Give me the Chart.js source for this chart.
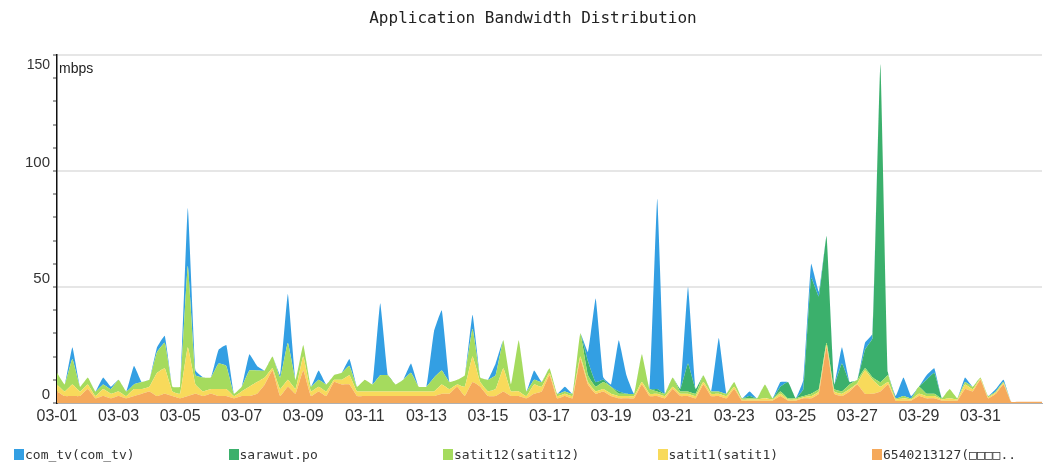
<!DOCTYPE html>
<html>
<head>
<meta charset="utf-8">
<title>Application Bandwidth Distribution</title>
<script src="https://cdn.jsdelivr.net/npm/chart.js@4"></script>
<style>
  html, body { margin: 0; padding: 0; background: #fff; }
  #wrap { position: relative; width: 1058px; height: 470px; overflow: hidden; }
  #chart { position: absolute; left: 0; top: 0; }
  #title { position: absolute; top: 8px; left: 0; width: 1066px; text-align: center;
           font: 16px "DejaVu Sans Mono", monospace; color: #222; }
  #legend { position: absolute; top: 449px; left: 0; width: 1058px; height: 16px;
            font: 13px "DejaVu Sans Mono", monospace; color: #333; }
  .item { position: absolute; top: 0; white-space: nowrap; line-height: 12px; }
  .swatch { display: inline-block; width: 10px; height: 11px; vertical-align: top; margin-right: 1px; }
</style>
</head>
<body>
<div id="wrap">
  <canvas id="chart" width="1058" height="470"></canvas>
  <div id="title">Application Bandwidth Distribution</div>
  <div id="legend"></div>
</div>
<script>
// Samples every 6 hours starting 03-01 00:00 (4 per day, one day per row)
const STEP_HOURS = 6;
const Y_UNIT = 'mbps';
const Y_MAX = 150;

// Series names / colours, listed bottom of the stack first
const SERIES_NAMES = ['6540213127(□□□□..', 'satit1(satit1)', 'satit12(satit12)', 'sarawut.po', 'com_tv(com_tv)'];
const SERIES_COLORS = ['#f5a95b', '#f8da5b', '#a5db5e', '#3bb06c', '#339fe3'];

const orange = [
    5, 3, 3, 3,
    6, 2, 3, 2,
    3, 2, 3, 4,
    5, 3, 4, 3,
    2, 3, 4, 3,
    4, 3, 3, 2,
    3, 3, 4, 8,
    14, 3, 7, 4,
    14, 3, 5, 3,
    9, 8, 8, 3,
    3, 3, 3, 3,
    3, 3, 3, 3,
    3, 3, 4, 4,
    7, 3, 9, 7,
    3, 3, 5, 3,
    3, 2, 4, 5,
    12, 2, 3, 2,
    19, 8, 4, 5,
    3, 2, 2, 2,
    8, 3, 3, 2,
    6, 3, 3, 2,
    8, 3, 3, 2,
    6, 1, 1, 1,
    1, 1, 3, 1,
    1, 2, 2, 4,
    24, 4, 3, 5,
    8, 4, 4, 5,
    8, 1, 1, 1,
    3, 2, 2, 1,
    1, 1, 6, 5,
    10, 2, 4, 8,
    0.5, 0.5, 0.5, 0.5,
    0.5
];

const yellow = [
    3, 2, 5, 2,
    2, 1, 3, 2,
    2, 1, 3, 2,
    2, 10, 11, 2,
    2, 21, 4, 2,
    2, 3, 3, 1,
    2, 4, 5, 3,
    1, 3, 3, 2,
    6, 2, 2, 2,
    1, 2, 4, 2,
    2, 2, 2, 2,
    2, 2, 2, 2,
    2, 2, 4, 2,
    1, 4, 11, 2,
    2, 3, 10, 2,
    2, 1, 4, 2,
    1, 1, 1, 1,
    1, 1, 1, 1,
    1, 1, 1, 1,
    1, 1, 1, 1,
    1, 1, 1, 1,
    1, 1, 1, 1,
    1, 0.5, 0.5, 0.5,
    1, 0.5, 1, 0.5,
    0.5, 0.5, 1, 1,
    1, 1, 1, 1,
    0.5, 10, 6, 2,
    1, 0.5, 1, 0.5,
    1, 1, 1, 0.5,
    1, 0.5, 2, 1,
    0.5, 0.5, 0.5, 0.5,
    0, 0, 0, 0,
    0
];

const lightGreen = [
    5, 3, 11, 2,
    3, 2, 2, 2,
    5, 2, 2, 3,
    3, 9, 11, 2,
    3, 35, 4, 6,
    5, 11, 10, 1,
    2, 7, 5, 3,
    5, 5, 16, 4,
    5, 2, 3, 3,
    2, 3, 4, 2,
    5, 3, 7, 7,
    3, 5, 8, 2,
    2, 6, 6, 3,
    2, 5, 12, 2,
    5, 6, 12, 3,
    22, 2, 2, 2,
    2, 1, 1, 1,
    10, 3, 2, 3,
    3, 1, 1, 1,
    12, 2, 1, 1,
    4, 1, 1, 1,
    3, 1, 1, 1,
    2, 0.5, 0.5, 0.5,
    6, 0.5, 1, 0.5,
    0.5, 0.5, 1, 1,
    1, 1, 1, 2,
    1.5, 1, 1, 2,
    3, 0.5, 1, 0.5,
    3, 1, 1, 0.5,
    4, 0.5, 1, 1,
    0.5, 0.5, 0.5, 0.5,
    0, 0, 0, 0,
    0
];

const darkGreen = [
    0, 0, 0, 0,
    0, 0, 0, 0,
    0, 0, 0, 0,
    0, 0, 0, 0,
    0, 0, 0, 0,
    0, 0, 0, 0,
    0, 0, 0, 0,
    0, 0, 0, 0,
    0, 0, 0, 0,
    0, 0, 0, 0,
    0, 0, 0, 0,
    0, 0, 0, 0,
    0, 0, 0, 0,
    0, 0, 0, 0,
    0, 0, 0, 0,
    0, 0, 0, 0,
    0, 0, 0, 0,
    0, 6, 2, 1,
    0, 1, 0, 0,
    0, 0, 1, 0,
    0, 1, 12, 2,
    0, 0, 0, 0,
    0, 0, 1, 0,
    0, 0, 2, 7,
    0, 3, 50, 40,
    46, 2, 12, 1,
    0, 8, 17, 137,
    1, 0, 0, 0,
    0, 6, 9, 0,
    0, 0, 0, 0,
    0, 0, 0, 0,
    0, 0, 0, 0,
    0
];

const blue = [
    0, 0, 5, 0,
    0, 0, 3, 1,
    0, 0, 8, 0,
    0, 2, 3, 0,
    0, 25, 2, 0,
    0, 6, 9, 0,
    0, 7, 2, 0,
    0, 1, 21, 0,
    0, 0, 4, 0,
    0, 0, 3, 0,
    0, 0, 31, 0,
    0, 0, 4, 0,
    0, 20, 26, 0,
    0, 0, 6, 0,
    0, 5, 0, 0,
    0, 0, 4, 0,
    0, 0, 2, 0,
    0, 4, 36, 1,
    1, 22, 8, 0,
    0, 0, 82, 0,
    0, 0, 33, 0,
    0, 0, 23, 0,
    0, 0, 2, 0,
    0, 0, 2, 0,
    0, 4, 6, 2,
    0, 0, 7, 0,
    0, 3, 2, 0,
    0, 1, 8, 1,
    0, 2, 2, 0,
    0, 0, 2, 0,
    0, 0, 1, 1,
    0, 0, 0, 0,
    0
];

const SERIES_VALUES = [orange, yellow, lightGreen, darkGreen, blue];

// Format hours since 03-01 00:00 as MM-DD
function formatDay(hours) {
    let day = hours / 24 + 1;
    let month = 3;
    if (day > 31) { day -= 31; month = 4; }
    return String(month).padStart(2, '0') + '-' + String(day).padStart(2, '0');
}

const tickFont = { family: '"Liberation Sans", Arial, sans-serif', size: 14 };

// "mbps" unit text, and the top tick label which sits just below its gridline
const unitLabel = {
    id: 'unitLabel',
    afterDraw(chart) {
        const { ctx, chartArea, scales } = chart;
        ctx.save();
        ctx.fillStyle = '#222';
        ctx.textBaseline = 'middle';
        ctx.font = '14px ' + tickFont.family;
        ctx.fillText(Y_UNIT, chartArea.left + 2, chartArea.top + 14);
        ctx.fillStyle = '#333';
        ctx.textAlign = 'right';
        ctx.fillText(String(Y_MAX), chartArea.left - 7, scales.y.getPixelForValue(Y_MAX) + 10);
        ctx.restore();
    }
};

const datasets = SERIES_NAMES.map((name, k) => ({
    label: name,
    data: SERIES_VALUES[k].map((v, i) => ({ x: i * STEP_HOURS, y: v })),
    backgroundColor: SERIES_COLORS[k],
    borderColor: SERIES_COLORS[k],
    borderWidth: 0,
    pointRadius: 0,
    fill: k === 0 ? 'origin' : '-1',
    tension: 0.1
}));

new Chart(document.getElementById('chart'), {
    type: 'line',
    data: { datasets },
    options: {
        responsive: false,
        devicePixelRatio: 1,
        animation: false,
        layout: { padding: { top: 55, right: 16, bottom: 37, left: 0 } },
        plugins: {
            legend: { display: false },
            title: { display: false },
            tooltip: { enabled: false }
        },
        scales: {
            x: {
                type: 'linear',
                min: 0,
                max: 768,
                grid: { display: false, drawTicks: false },
                border: { display: true, color: '#b0b0b0', dash: [2, 2] },
                ticks: {
                    stepSize: 48,
                    autoSkip: false,
                    maxRotation: 0,
                    padding: 4,
                    color: '#333',
                    font: { family: tickFont.family, size: 16 },
                    callback: v => v < 768 ? formatDay(v) : ''
                },
                afterFit: s => { s.height = 30; }
            },
            y: {
                stacked: true,
                min: 0,
                max: Y_MAX,
                ticks: {
                    stepSize: 10,
                    autoSkip: false,
                    padding: 3,
                    labelOffset: -8,
                    color: '#333',
                    font: { family: tickFont.family, size: 15 },
                    callback: v => (v % 50 === 0 && v < Y_MAX) ? v : ''
                },
                grid: {
                    color: c => (c.tick && c.tick.value % 50 === 0 && c.tick.value > 0) ? '#e6e6e6' : 'rgba(0,0,0,0)',
                    lineWidth: 2,
                    tickColor: '#444',
                    tickLength: 4,
                    tickWidth: 1
                },
                border: { color: '#111', width: 1.5 },
                afterFit: s => { s.width = 57; }
            }
        }
    },
    plugins: [unitLabel]
});

// Legend: top series first, evenly spaced across the width
const legend = document.getElementById('legend');
for (let n = 0; n < SERIES_NAMES.length; n++) {
    const k = SERIES_NAMES.length - 1 - n;
    const item = document.createElement('div');
    item.className = 'item';
    item.style.left = (14 + n * 214.5) + 'px';
    item.innerHTML = `<span class="swatch" style="background:${SERIES_COLORS[k]}"></span>${SERIES_NAMES[k]}`;
    legend.appendChild(item);
}
</script>
</body>
</html>
